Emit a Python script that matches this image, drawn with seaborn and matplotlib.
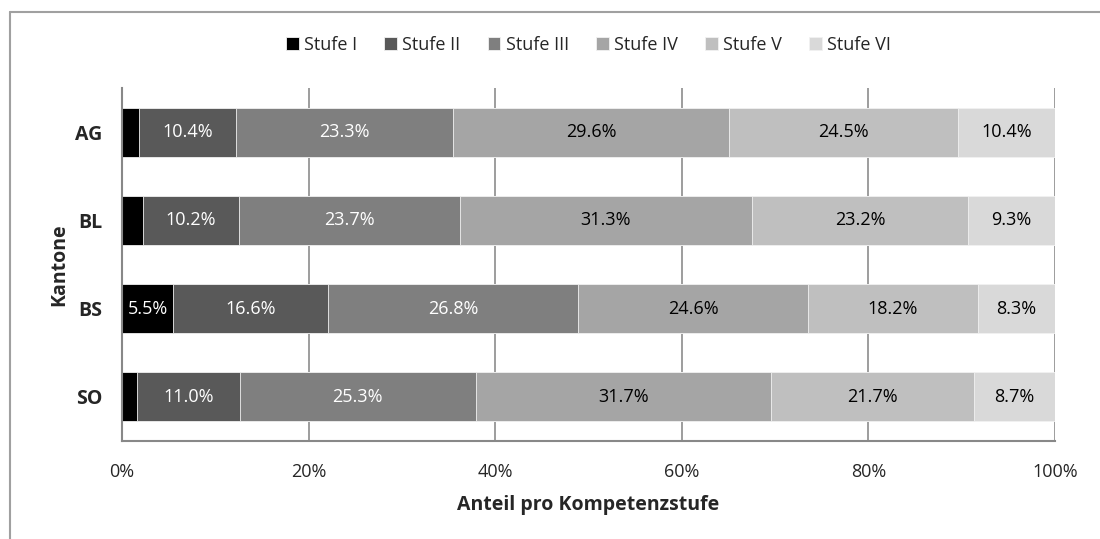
import numpy as np
import pandas as pd
import seaborn as sns
import matplotlib.pyplot as plt
from matplotlib.lines import Line2D

kantone = ["AG", "BL", "BS", "SO"]
stufen = ["Stufe I", "Stufe II", "Stufe III", "Stufe IV", "Stufe V", "Stufe VI"]
stufe_1 = [1.8, 2.3, 5.5, 1.6]
stufe_2 = [10.4, 10.2, 16.6, 11.0]
stufe_3 = [23.3, 23.7, 26.8, 25.3]
stufe_4 = [29.6, 31.3, 24.6, 31.7]
stufe_5 = [24.5, 23.2, 18.2, 21.7]
stufe_6 = [10.4, 9.3, 8.3, 8.7]
xticks = [0, 20, 40, 60, 80, 100]

colors = ["#000000", "#595959", "#7f7f7f", "#a5a5a5", "#bfbfbf", "#d9d9d9"]
text_colors = ["white", "white", "white", "black", "black", "black"]

sns.set_style("white")
plt.rcParams["font.family"] = ["Open Sans", "DejaVu Sans"]

values = np.array([stufe_1, stufe_2, stufe_3, stufe_4, stufe_5, stufe_6])
cum = values.cumsum(axis=0)
df = pd.DataFrame(cum.T, columns=stufen)
df["Kanton"] = kantone

fig = plt.figure(figsize=(11, 5.39), dpi=100)
ax = fig.add_axes([0.1109, 0.1818, 0.8482, 0.6549])

# stacked bars: draw cumulative totals from the largest down
for i in reversed(range(len(stufen))):
    sns.barplot(data=df, x=stufen[i], y="Kanton", orient="h", color=colors[i],
                width=0.555, edgecolor="#f2f2f2", linewidth=0.6, ax=ax,
                saturation=1, label=stufen[i])

for i in range(len(stufen)):
    for j, k in enumerate(kantone):
        v = values[i, j]
        if i == 0 and v < 3:
            continue
        ax.text(cum[i, j] - v / 2, j, f"{v:.1f}%", ha="center", va="center",
                color=text_colors[i], fontsize=13)

ax.set_xlim(0, 100)
ax.set_ylim(3.5, -0.5)
ax.set_xticks(xticks)
ax.set_xticklabels([f"{t}%" for t in xticks], fontsize=13)
ax.set_yticks(range(len(kantone)))
ax.set_yticklabels(kantone, fontsize=14, fontweight="bold")
ax.set_yticks(np.arange(-0.5, len(kantone), 1), minor=True)
ax.tick_params(axis="y", which="major", length=0, pad=14)
ax.tick_params(axis="y", which="minor", length=6, color="#888888", width=1.3, direction="out")
ax.tick_params(axis="x", length=6, color="#888888", width=1.3, direction="out", pad=10)
ax.xaxis.grid(True, color="#8c8c8c", linewidth=1.2)
ax.set_axisbelow(True)
for s in ["top", "right"]:
    ax.spines[s].set_visible(False)
for s in ["left", "bottom"]:
    ax.spines[s].set_color("#888888")
    ax.spines[s].set_linewidth(1.5)

ax.set_xlabel("Anteil pro Kompetenzstufe", fontsize=14, fontweight="bold", labelpad=10)
ax.set_ylabel("Kantone", fontsize=14, fontweight="bold", labelpad=4)

handles, labels = ax.get_legend_handles_labels()
order = [labels.index(s) for s in stufen]
ax.legend([handles[o] for o in order], stufen, loc="center", ncol=6,
          bbox_to_anchor=(0.5, 1.122), frameon=False, fontsize=13,
          handlelength=0.7, handleheight=0.7, handletextpad=0.3, columnspacing=1.5)

fig.add_artist(Line2D([0.0091, 1.0], [0.9777, 0.9777], color="#a0a0a0", linewidth=1.5,
                      transform=fig.transFigure))
fig.add_artist(Line2D([0.0091, 0.0091], [0.9777, 0.0], color="#a0a0a0", linewidth=1.5,
                      transform=fig.transFigure))

fig.savefig("out.png", dpi=100)
